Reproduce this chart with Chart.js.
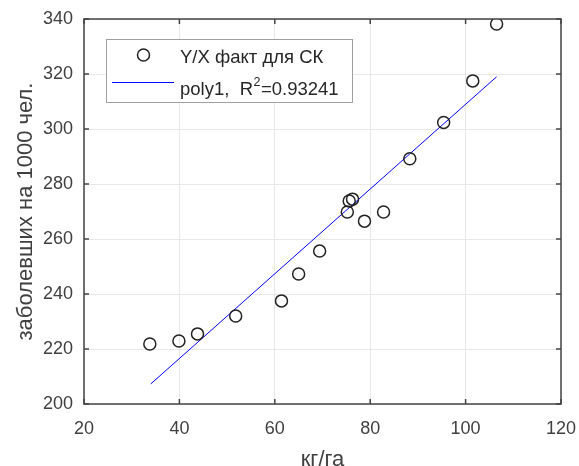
<!DOCTYPE html>
<html><head><meta charset="utf-8">
<script src="https://cdn.jsdelivr.net/npm/chart.js@4/dist/chart.umd.min.js"></script>
<style>html,body{margin:0;padding:0;background:#fff;}#wrap{width:579px;height:466px;}</style>
</head><body><div id="wrap"><canvas id="c" width="579" height="466"></canvas></div>
<script>
const xFact = [33.8, 39.9, 43.8, 51.8, 61.4, 65.0, 69.4, 75.2, 75.6, 76.3, 78.8, 82.8, 88.3, 95.4, 101.5, 106.5];
const yFact = [221.8, 222.9, 225.5, 232.0, 237.5, 247.3, 255.6, 269.8, 273.8, 274.5, 266.5, 269.8, 289.2, 302.4, 317.5, 338.2];
const xFit = [34.0, 106.5];
const yFit = [207.3, 319.0];
const xTicks = [20, 40, 60, 80, 100, 120];
const yTicks = [200, 220, 240, 260, 280, 300, 320, 340];
const labelFact = 'Y/X факт для СК';
const labelFitMain = 'poly1,  R';
const labelFitSup = '2';
const labelFitTail = '=0.93241';
const xTitle = 'кг/га';
const yTitle = 'заболевших на 1000 чел.';

const TXT = '#404040';
const FONT = 'Liberation Sans, Arial, sans-serif';

const boxTicks = {
  id: 'boxTicks',
  afterDraw(chart) {
    const ctx = chart.ctx, a = chart.chartArea;
    const xs = chart.scales.x, ys = chart.scales.y;
    ctx.save();
    ctx.strokeStyle = '#444';
    ctx.lineWidth = 1.5;
    ctx.strokeRect(a.left, a.top, a.right - a.left, a.bottom - a.top);
    ctx.beginPath();
    xTicks.forEach(v => {
      const px = xs.getPixelForValue(v);
      ctx.moveTo(px, a.bottom); ctx.lineTo(px, a.bottom - 5);
      ctx.moveTo(px, a.top); ctx.lineTo(px, a.top + 5);
    });
    yTicks.forEach(v => {
      const py = ys.getPixelForValue(v);
      ctx.moveTo(a.left, py); ctx.lineTo(a.left + 5, py);
      ctx.moveTo(a.right, py); ctx.lineTo(a.right - 5, py);
    });
    ctx.stroke();
    // legend
    const lx = 106, ly = 39, lw = 246, lh = 63;
    ctx.fillStyle = '#fff';
    ctx.fillRect(lx, ly, lw, lh);
    ctx.strokeStyle = '#a0a0a0';
    ctx.lineWidth = 1;
    ctx.strokeRect(lx + 0.5, ly + 0.5, lw, lh);
    ctx.strokeStyle = '#222';
    ctx.lineWidth = 1.5;
    ctx.beginPath(); ctx.arc(143.5, 55, 6, 0, Math.PI * 2); ctx.stroke();
    ctx.strokeStyle = '#0000ff';
    ctx.lineWidth = 1;
    ctx.beginPath(); ctx.moveTo(112, 82.5); ctx.lineTo(174, 82.5); ctx.stroke();
    ctx.fillStyle = '#262626';
    ctx.textBaseline = 'alphabetic';
    ctx.textAlign = 'left';
    ctx.font = '18.5px ' + FONT;
    ctx.fillText(labelFact, 180, 63);
    ctx.fillText(labelFitMain, 180, 95);
    let w = ctx.measureText(labelFitMain).width;
    ctx.font = '12.5px ' + FONT;
    ctx.fillText(labelFitSup, 180 + w + 0.5, 86);
    let w2 = ctx.measureText(labelFitSup).width;
    ctx.font = '18.5px ' + FONT;
    ctx.fillText(labelFitTail, 180 + w + w2 + 1, 95);
    ctx.restore();
  }
};

new Chart(document.getElementById('c'), {
  type: 'scatter',
  data: {
    datasets: [
      {
        label: labelFact,
        data: xFact.map((x, i) => ({x, y: yFact[i]})),
        pointStyle: 'circle',
        pointRadius: 6,
        pointBorderWidth: 1.5,
        pointBorderColor: '#222',
        pointBackgroundColor: 'rgba(0,0,0,0)',
        showLine: false
      },
      {
        label: 'poly1',
        data: xFit.map((x, i) => ({x, y: yFit[i]})),
        showLine: true,
        borderColor: '#0000ff',
        borderWidth: 1,
        pointRadius: 0,
        fill: false
      }
    ]
  },
  options: {
    responsive: false,
    animation: false,
    devicePixelRatio: 1,
    layout: { padding: { top: 19, right: 18, left: 13, bottom: 0 } },
    plugins: { legend: { display: false }, tooltip: { enabled: false } },
    scales: {
      x: {
        type: 'linear', min: 20, max: 120,
        afterBuildTicks(s) { s.ticks = xTicks.map(v => ({value: v})); },
        afterFit(s) { s.height = 62; s.paddingRight = 0; s.paddingLeft = 0; },
        grid: { color: '#e8e8e8', drawTicks: false, lineWidth: 1 },
        border: { display: false },
        ticks: { color: TXT, font: { family: FONT, size: 18 }, padding: 14, maxRotation: 0 },
        title: { display: true, text: xTitle, color: TXT, font: { family: FONT, size: 22 }, padding: { top: 0, bottom: -7 } }
      },
      y: {
        type: 'linear', min: 200, max: 340,
        afterBuildTicks(s) { s.ticks = yTicks.map(v => ({value: v})); },
        afterFit(s) { s.width = 71; s.paddingTop = 0; s.paddingBottom = 0; },
        grid: { color: '#e8e8e8', drawTicks: false, lineWidth: 1 },
        border: { display: false },
        ticks: { color: TXT, font: { family: FONT, size: 18 }, padding: 11 },
        title: { display: true, text: yTitle, color: TXT, font: { family: FONT, size: 22 }, padding: { top: 0, bottom: 4 } }
      }
    }
  },
  plugins: [boxTicks]
});
</script></body></html>
